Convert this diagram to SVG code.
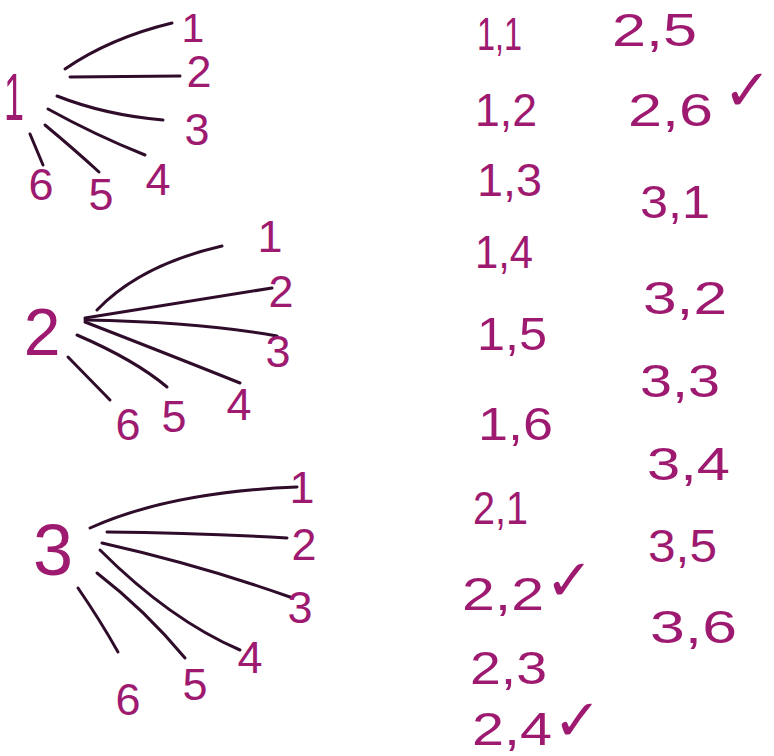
<svg xmlns="http://www.w3.org/2000/svg" width="774" height="756" viewBox="0 0 774 756">
<style>
.t{font-family:"Liberation Sans",Arial,sans-serif;fill:#9e1a70;text-anchor:middle}
.r{font-size:66px}
.l{font-size:45px}
.o{font-family:"Liberation Sans",Arial,sans-serif;fill:#9e1a70;font-size:46px}
.c{font-family:"DejaVu Sans",sans-serif;fill:#9e1a70;font-size:58px}
.e{fill:none;stroke:#2e0c2a;stroke-width:3;stroke-linecap:round}
</style>
<rect width="774" height="756" fill="#ffffff"/>
<g id="connectors">
<path class="e" d="M65,69 Q110,38 172,23"/>
<path class="e" d="M70,77 L180,76"/>
<path class="e" d="M57,96 Q105,115 163,120"/>
<path class="e" d="M48,109 Q95,135 145,155"/>
<path class="e" d="M45,125 Q75,150 99,172"/>
<path class="e" d="M30,134 L43,165"/>
<path class="e" d="M97,310 Q140,265 222,246"/>
<path class="e" d="M85,318 L272,288"/>
<path class="e" d="M85,320 Q200,322 277,336"/>
<path class="e" d="M85,322 Q170,355 240,383"/>
<path class="e" d="M77,335 Q135,360 167,387"/>
<path class="e" d="M68,357 L110,400"/>
<path class="e" d="M90,528 Q170,492 297,487"/>
<path class="e" d="M107,532 Q200,533 287,538"/>
<path class="e" d="M102,543 Q200,565 290,597"/>
<path class="e" d="M100,550 Q170,620 240,650"/>
<path class="e" d="M97,573 Q145,610 185,658"/>
<path class="e" d="M78,588 Q100,620 118,652"/>
</g>
<g id="tree1">
<g id="t1-root"><text class="t r" x="14" y="120" textLength="20" lengthAdjust="spacingAndGlyphs">1</text></g>
<g id="t1-1"><text class="t l" x="193" y="42" style="font-size:41px">1</text></g>
<g id="t1-2"><text class="t l" x="199" y="87">2</text></g>
<g id="t1-3"><text class="t l" x="197" y="145">3</text></g>
<g id="t1-4"><text class="t l" x="158" y="195">4</text></g>
<g id="t1-5"><text class="t l" x="101" y="210">5</text></g>
<g id="t1-6"><text class="t l" x="41" y="200">6</text></g>
</g>
<g id="tree2">
<g id="t2-root"><text class="t r" x="42" y="355">2</text></g>
<g id="t2-1"><text class="t l" x="270" y="252">1</text></g>
<g id="t2-2"><text class="t l" x="281" y="307">2</text></g>
<g id="t2-3"><text class="t l" x="278" y="367">3</text></g>
<g id="t2-4"><text class="t l" x="239" y="420">4</text></g>
<g id="t2-5"><text class="t l" x="174" y="432">5</text></g>
<g id="t2-6"><text class="t l" x="128" y="440">6</text></g>
</g>
<g id="tree3">
<g id="t3-root"><text class="t r" x="53" y="575" style="font-size:72px">3</text></g>
<g id="t3-1"><text class="t l" x="302" y="503">1</text></g>
<g id="t3-2"><text class="t l" x="304" y="560">2</text></g>
<g id="t3-3"><text class="t l" x="300" y="623">3</text></g>
<g id="t3-4"><text class="t l" x="250" y="673">4</text></g>
<g id="t3-5"><text class="t l" x="195" y="700">5</text></g>
<g id="t3-6"><text class="t l" x="128" y="715">6</text></g>
</g>
<g id="outcomes">
<text class="o" x="477" y="50" textLength="45" lengthAdjust="spacingAndGlyphs">1,1</text>
<text class="o" x="475" y="126" textLength="62" lengthAdjust="spacingAndGlyphs">1,2</text>
<text class="o" x="477" y="196" textLength="65" lengthAdjust="spacingAndGlyphs">1,3</text>
<text class="o" x="475" y="268" textLength="58" lengthAdjust="spacingAndGlyphs">1,4</text>
<text class="o" x="477" y="350" textLength="70" lengthAdjust="spacingAndGlyphs">1,5</text>
<text class="o" x="478" y="440" textLength="75" lengthAdjust="spacingAndGlyphs">1,6</text>
<text class="o" x="473" y="524" textLength="55" lengthAdjust="spacingAndGlyphs">2,1</text>
<text class="o" x="462" y="610" textLength="82" lengthAdjust="spacingAndGlyphs">2,2</text>
<text class="c" x="545" y="600">✓</text>
<text class="o" x="470" y="684" textLength="77" lengthAdjust="spacingAndGlyphs">2,3</text>
<text class="o" x="472" y="745" textLength="80" lengthAdjust="spacingAndGlyphs">2,4</text>
<text class="c" x="553" y="740">✓</text>
<text class="o" x="612" y="46" textLength="85" lengthAdjust="spacingAndGlyphs">2,5</text>
<text class="o" x="628" y="126" textLength="85" lengthAdjust="spacingAndGlyphs">2,6</text>
<text class="c" x="723" y="110">✓</text>
<text class="o" x="640" y="218" textLength="70" lengthAdjust="spacingAndGlyphs">3,1</text>
<text class="o" x="643" y="314" textLength="84" lengthAdjust="spacingAndGlyphs">3,2</text>
<text class="o" x="640" y="397" textLength="80" lengthAdjust="spacingAndGlyphs">3,3</text>
<text class="o" x="647" y="480" textLength="83" lengthAdjust="spacingAndGlyphs">3,4</text>
<text class="o" x="648" y="562" textLength="69" lengthAdjust="spacingAndGlyphs">3,5</text>
<text class="o" x="650" y="643" textLength="87" lengthAdjust="spacingAndGlyphs">3,6</text>
</g>
</svg>
